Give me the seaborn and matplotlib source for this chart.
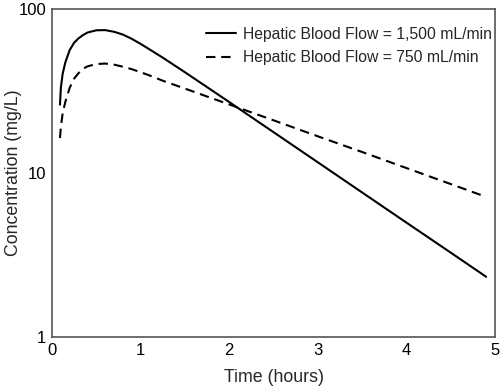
import matplotlib
matplotlib.use("Agg")
import matplotlib.pyplot as plt
import matplotlib.ticker as mticker
import seaborn as sns
import pandas as pd

# Valores (tempo em horas, concentração em mg/L)
time_fast = [0.09, 0.10, 0.12, 0.15, 0.20, 0.25, 0.30, 0.35, 0.40, 0.50, 0.60, 0.70, 0.80, 0.90,
             1.00, 1.10, 1.25, 1.50, 2.00, 2.50, 3.00, 3.50, 4.00, 4.50, 4.90]
conc_fast = [26.0, 33.0, 40.0, 47.0, 56.0, 62.0, 66.0, 69.0, 71.5, 73.8, 74.0, 72.3, 69.5, 65.5,
             61.0, 56.5, 50.3, 41.0, 27.0, 17.7, 11.6, 7.6, 4.98, 3.27, 2.33]

time_slow = [0.09, 0.10, 0.12, 0.15, 0.20, 0.25, 0.30, 0.35, 0.40, 0.50, 0.60, 0.70, 0.80, 0.90,
             1.00, 1.10, 1.25, 1.50, 2.00, 2.50, 3.00, 3.50, 4.00, 4.50, 4.90]
conc_slow = [16.3, 19.0, 23.0, 27.0, 33.0, 37.5, 40.5, 43.0, 44.5, 46.0, 46.3, 45.6, 44.3, 42.8,
             41.0, 39.2, 36.4, 32.6, 26.1, 20.9, 16.7, 13.4, 10.7, 8.55, 7.14]

labels = ["Hepatic Blood Flow = 1,500 mL/min", "Hepatic Blood Flow = 750 mL/min"]
x_ticks = [0, 1, 2, 3, 4, 5]
y_ticks = [1, 10, 100]

df = pd.concat([
    pd.DataFrame({"time": time_fast, "conc": conc_fast, "flow": labels[0]}),
    pd.DataFrame({"time": time_slow, "conc": conc_slow, "flow": labels[1]}),
])

sns.set_style("white")
plt.rcParams["font.family"] = ["Liberation Sans", "DejaVu Sans"]
plt.rcParams["axes.edgecolor"] = "#555555"

fig = plt.figure(figsize=(5, 3.92), dpi=100)
ax = fig.add_axes([0.104, 0.140, 0.886, 0.838])

sns.lineplot(data=df, x="time", y="conc", hue="flow", style="flow",
             palette=["black", "black"], dashes=[(None, None), (4.5, 2.8)],
             linewidth=1.5, ax=ax, sort=False)

ax.set_yscale("log")
ax.set_xlim(0, 5)
ax.set_ylim(1, 100)
ax.set_xticks(x_ticks)
ax.set_yticks(y_ticks)
ax.yaxis.set_major_formatter(mticker.FuncFormatter(lambda v, p: f"{v:g}"))
ax.yaxis.set_minor_locator(mticker.NullLocator())
ax.tick_params(direction="in", length=6, width=1, colors="#555555", labelcolor="black",
               labelsize=12, pad=4)
for s in ax.spines.values():
    s.set_linewidth(1.2)

ax.set_xlabel("Time (hours)", fontsize=12.8, labelpad=8)
ax.set_ylabel("Concentration (mg/L)", fontsize=12.8)
# o rótulo fica colado à esquerda, sobreposto à faixa do "100"
ax.yaxis.set_label_coords(-0.068, 0.5)

leg = ax.legend(loc="upper right", frameon=False, fontsize=11.3, handlelength=1.9,
                handletextpad=0.45, labelspacing=0.56, borderaxespad=0.0, borderpad=0.2,
                bbox_to_anchor=(1.0, 0.955))

fig.savefig("out.png", dpi=100)
plt.close(fig)
